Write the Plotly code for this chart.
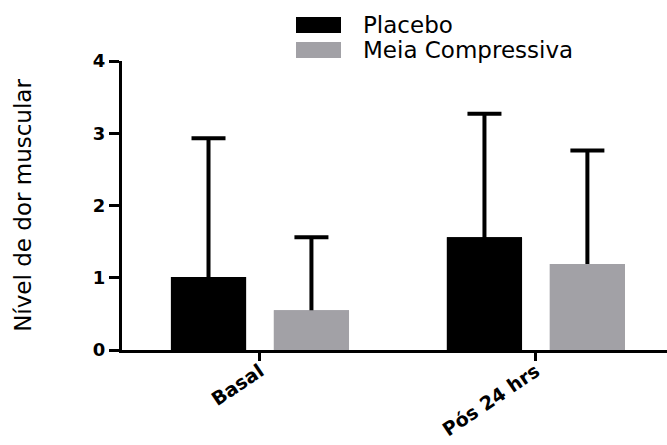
import plotly.graph_objects as go

categories = ["Basal", "Pós 24 hrs"]
series_names = ["Placebo", "Meia Compressiva"]
placebo_mean = [1.01, 1.56]
placebo_sd = [1.92, 1.71]
meia_mean = [0.55, 1.19]
meia_sd = [1.01, 1.57]
y_ticks = [0, 1, 2, 3, 4]

colors = ["#000000", "#a2a1a6"]

W, H = 667, 445
ML, MR, MT, MB = 122, 0, 61, 95
PW = W - ML - MR
PH = H - MT - MB


def px_x(p):
    return (p - ML) / PW


def px_y(p):
    return (H - MB - p) / PH


fig = go.Figure()
series = [
    ("p", series_names[0], placebo_mean, placebo_sd, colors[0]),
    ("m", series_names[1], meia_mean, meia_sd, colors[1]),
]
# bars with upward error bars (lower cap tucked just under the bar top)
for grp, name, mean, sd, col in series:
    fig.add_trace(go.Bar(
        x=categories, y=mean, name=name, offsetgroup=grp,
        marker=dict(color=col, line=dict(width=0)),
        error_y=dict(type="data", symmetric=False, array=sd,
                     arrayminus=[0.04] * len(sd), color="#000000",
                     thickness=4, width=17),
        showlegend=False,
    ))
# same bars drawn again on top to hide the lower cap of the error bars
for grp, name, mean, sd, col in series:
    fig.add_trace(go.Bar(
        x=categories, y=mean, name=name, offsetgroup=grp,
        marker=dict(color=col, line=dict(width=0)),
        showlegend=False, hoverinfo="skip",
    ))

# manual legend (wide swatches)
legend_rows = [(25, colors[0], series_names[0]), (50, colors[1], series_names[1])]
shapes = []
annotations = []
for cy, col, name in legend_rows:
    shapes.append(dict(type="rect", xref="paper", yref="paper",
                       x0=px_x(296), x1=px_x(341), y0=px_y(cy - 8), y1=px_y(cy + 8),
                       fillcolor=col, line=dict(width=0)))
    annotations.append(dict(xref="paper", yref="paper", x=px_x(361), y=px_y(cy),
                            xanchor="left", yanchor="middle", showarrow=False,
                            text=name, font=dict(family="DejaVu Sans", size=23, color="#000")))

fig.update_layout(
    width=W, height=H,
    margin=dict(l=ML, r=MR, t=MT, b=MB, autoexpand=False),
    paper_bgcolor="white", plot_bgcolor="white",
    barmode="group", bargap=0.254, bargroupgap=0.27,
    shapes=shapes, annotations=annotations,
    xaxis=dict(range=[-0.5, 1.475], showgrid=False, zeroline=False,
               showline=True, linecolor="#000", linewidth=3,
               ticks="outside", ticklen=8, tickwidth=3, tickcolor="#000",
               tickangle=-34, ticklabelstandoff=-8,
               tickfont=dict(family="DejaVu Sans", size=19, color="#000", weight="bold")),
    yaxis=dict(range=[0, 4], tickvals=y_ticks, showgrid=False, zeroline=False,
               showline=True, linecolor="#000", linewidth=3,
               ticks="outside", ticklen=10, tickwidth=3, tickcolor="#000",
               tickfont=dict(family="DejaVu Sans", size=18, color="#000", weight="bold"),
               title=dict(text="Nível de dor muscular", standoff=55,
                          font=dict(family="DejaVu Sans", size=23, color="#000"))),
)

fig.write_html("out.html", config={"displayModeBar": False},
               post_script="document.body.style.margin='0';")
